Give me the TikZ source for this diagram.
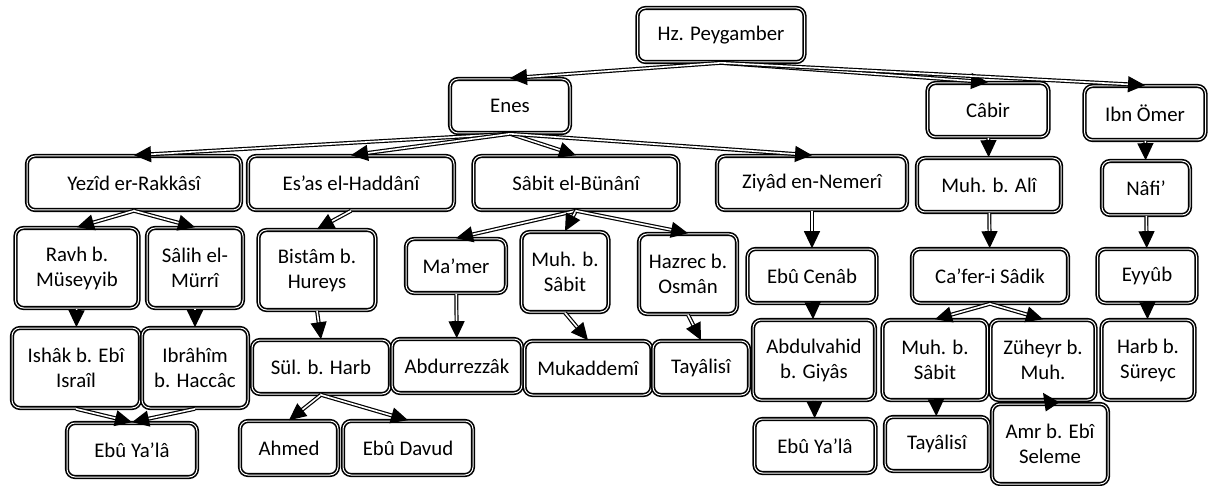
\documentclass[tikz,border=0pt]{standalone}
\usepackage{fontspec}
\setmainfont{Carlito}
\usetikzlibrary{arrows.meta}
\tikzstyle{box}=[rectangle, rounded corners=4pt, draw=black, double, double distance=0.5pt, line width=0.8pt, fill=white, align=center, minimum height=27pt, inner sep=0pt, font=\fontsize{10.4}{12.5}\selectfont]
\tikzstyle{tall}=[minimum height=40pt]
\tikzstyle{link}=[draw=black, double, double distance=0.8pt, line width=0.6pt, -{Triangle[length=8.5pt,width=8pt]}]
\begin{document}
\begin{tikzpicture}[x=0.5pt,y=-0.5pt]
	\useasboundingbox (0,0) rectangle (1214,486);

	% top levels
	\node[box, minimum width=83.5pt](hz) at (721,35){Hz. Peygamber};
	\node[box, minimum width=60pt](enes) at (510,106){Enes};
	\node[box, minimum width=60.5pt](cabir) at (988,110){Câbir};
	\node[box, minimum width=60.5pt](ibnomer) at (1145,113){Ibn Ömer};

	\node[box, minimum width=107pt](yezid) at (134,183){Yezîd er-Rakkâsî};
	\node[box, minimum width=103pt](esas) at (351,183){Es’as el-Haddânî};
	\node[box, minimum width=102.5pt](sabit) at (576,183){Sâbit el-Bünânî};
	\node[box, minimum width=95pt](ziyad) at (812,183){Ziyâd en-Nemerî};
	\node[box, minimum width=72pt](muhali) at (989,185){Muh. b. Alî};
	\node[box, minimum width=44pt](nafi) at (1146,188){Nâfi’};

	% middle
	\node[box, tall, minimum width=61.5pt](ravh) at (77,268){Ravh b.\\Müseyyib};
	\node[box, tall, minimum width=48pt](salih) at (195,268){Sâlih el-\\Mürrî};
	\node[box, tall, minimum width=58.5pt](bistam) at (317,270){Bistâm b.\\Hureys};
	\node[box, minimum width=50pt](mamer) at (456,266){Ma’mer};
	\node[box, tall, minimum width=43.5pt](muhsabit) at (565,272){Muh. b.\\Sâbit};
	\node[box, tall, minimum width=49pt](hazrec) at (688,274){Hazrec b.\\Osmân};
	\node[box, minimum width=64.5pt](ebucenab) at (812,276){Ebû Cenâb};
	\node[box, minimum width=78pt](cafer) at (990,276){Ca’fer-i Sâdik};
	\node[box, minimum width=49.5pt](eyyub) at (1147,276){Eyyûb};

	\node[box, tall, minimum width=64pt](ishak) at (76,368){Ishâk b. Ebî\\Israîl};
	\node[box, tall, minimum width=53pt](ibrahim) at (195,368){Ibrâhîm\\b. Haccâc};
	\node[box, minimum width=69pt](sul) at (321,367){Sül. b. Harb};
	\node[box, minimum width=65pt](abdurrezzak) at (457,366){Abdurrezzâk};
	\node[box, minimum width=63.5pt](mukaddemi) at (588,368){Mukaddemî};
	\node[box, minimum width=48pt](tayalisia) at (701,368){Tayâlisî};
	\node[box, tall, minimum width=61pt](abdulvahid) at (814,360){Abdulvahid\\b. Giyâs};
	\node[box, tall, minimum width=52.5pt](muhsabitb) at (935,360){Muh. b.\\Sâbit};
	\node[box, tall, minimum width=52.5pt](zuheyr) at (1043,360){Züheyr b.\\Muh.};
	\node[box, tall, minimum width=46.5pt](harb) at (1148,360){Harb b.\\Süreyc};

	% bottom
	\node[box, minimum width=65pt](ebuyalaa) at (132,450){Ebû Ya’lâ};
	\node[box, minimum width=49pt](ahmed) at (289,448){Ahmed};
	\node[box, minimum width=65pt](ebudavud) at (408,448){Ebû Davud};
	\node[box, minimum width=60.5pt](ebuyalab) at (815,446){Ebû Ya’lâ};
	\node[box, minimum width=52pt](tayalisib) at (937,444){Tayâlisî};
	\node[box, tall, minimum width=58pt](amr) at (1050,444){Amr b. Ebî\\Seleme};

	\draw[link] (hz.south) -- (enes.north);
	\draw[link] (hz.south) -- (cabir.north);
	\draw[link] (hz.south) -- (ibnomer.north);
	\draw[link] (enes.south) -- (yezid.north);
	\draw[link] (enes.south) -- (esas.north);
	\draw[link] (enes.south) -- (sabit.north);
	\draw[link] (enes.south) -- (ziyad.north);
	\draw[link] (cabir) -- (muhali);
	\draw[link] (ibnomer) -- (nafi);

	\draw[link] (yezid.south) -- (ravh.north);
	\draw[link] (yezid.south) -- (salih.north);
	\draw[link] (esas.south) -- (bistam.north);
	\draw[link] (sabit.south) -- (mamer.north);
	\draw[link] (sabit.south) -- (muhsabit.north);
	\draw[link] (sabit.south) -- (hazrec.north);
	\draw[link] (ziyad) -- (ebucenab);
	\draw[link] (muhali) -- (cafer);
	\draw[link] (nafi) -- (eyyub);

	\draw[link] (ravh) -- (ishak);
	\draw[link] (salih) -- (ibrahim);
	\draw[link] (bistam.south) -- (sul.north);
	\draw[link] (mamer) -- (abdurrezzak);
	\draw[link] (muhsabit.south) -- (mukaddemi.north);
	\draw[link] (hazrec.south) -- (tayalisia.north);
	\draw[link] (ebucenab) -- (abdulvahid);
	\draw[link] (cafer.south) -- (muhsabitb.north);
	\draw[link] (cafer.south) -- (zuheyr.north);
	\draw[link] (eyyub) -- (harb);

	\draw[link] (ishak.south) -- (ebuyalaa.north);
	\draw[link] (ibrahim.south) -- (ebuyalaa.north);
	\draw[link] (sul.south) -- (ahmed.north);
	\draw[link] (sul.south) -- (ebudavud.north);
	\draw[link] (abdulvahid) -- (ebuyalab);
	\draw[link] (muhsabitb) -- (tayalisib);
	\draw[link] (amr.north) -- ([yshift=4pt]zuheyr.south);
\end{tikzpicture}
\end{document}
